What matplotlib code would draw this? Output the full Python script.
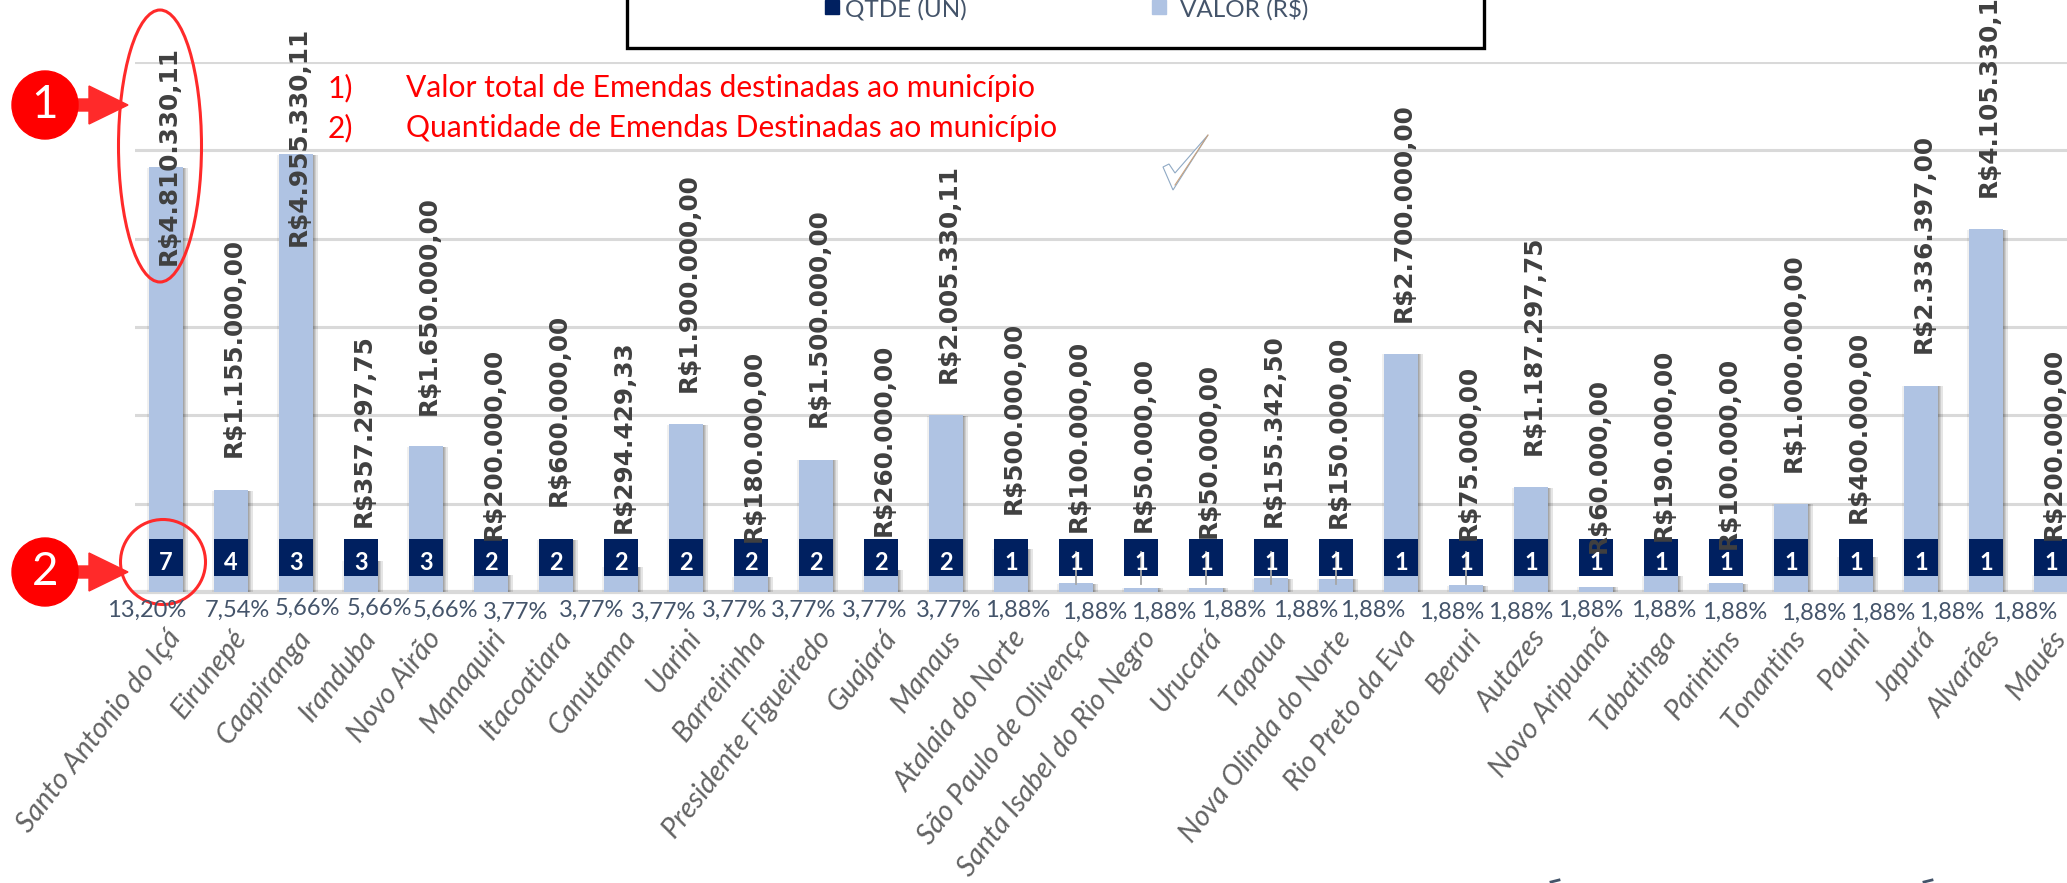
import matplotlib
matplotlib.use('Agg')
import matplotlib.pyplot as plt
import matplotlib.patheffects as pe
from matplotlib.patches import Ellipse, Polygon, Rectangle

# Data
municipios = ['Santo Antonio do Içá', 'Eirunepé', 'Caapiranga', 'Iranduba', 'Novo Airão',
              'Manaquiri', 'Itacoatiara', 'Canutama', 'Uarini', 'Barreirinha',
              'Presidente Figueiredo', 'Guajará', 'Manaus', 'Atalaia do Norte',
              'São Paulo de Olivença', 'Santa Isabel do Rio Negro', 'Urucará', 'Tapaua',
              'Nova Olinda do Norte', 'Rio Preto da Eva', 'Beruri', 'Autazes',
              'Novo Aripuanã', 'Tabatinga', 'Parintins', 'Tonantins', 'Pauni', 'Japurá',
              'Alvarães', 'Maués']
valor = [4810330.11, 1155000, 4955330.11, 357297.75, 1650000, 200000, 600000, 294429.33,
         1900000, 180000, 1500000, 260000, 2005330.11, 500000, 100000, 50000, 50000,
         155342.50, 150000, 2700000, 75000, 1187297.75, 60000, 190000, 100000, 1000000,
         400000, 2336397, 4105330.11, 200000]
qtde = [7, 4, 3, 3, 3, 2, 2, 2, 2, 2, 2, 2, 2, 1, 1, 1, 1, 1, 1, 1, 1, 1, 1, 1, 1, 1, 1, 1, 1, 1]
pct_labels = ['13,20%', '7,54%', '5,66%', '5,66%', '5,66%', '3,77%', '3,77%', '3,77%', '3,77%',
              '3,77%', '3,77%', '3,77%', '1,88%', '1,88%', '1,88%', '1,88%', '1,88%', '1,88%',
              '1,88%', '1,88%', '1,88%', '1,88%', '1,88%', '1,88%', '1,88%', '1,88%', '1,88%']

# Label layout, in picture pixels
label_bottom = [265, 457, 246, 527, 415, 540, 506, 533, 392, 542, 427, 536, 383, 514, 532,
                532, 538, 527, 528, 322, 540, 455, 553, 541, 549, 472, 523, 353, 197, 540]
pct_x = [147, 237, 307, 379, 445, 516, 592, 664, 735, 804, 875, 949, 1018, 1095, 1164, 1234,
         1306, 1373, 1452, 1521, 1591, 1664, 1735, 1814, 1883, 1952, 2025]
pct_y = [610, 610, 608, 608, 610, 612, 610, 612, 610, 610, 610, 610, 610, 612, 612, 610, 610,
         610, 612, 612, 610, 610, 612, 613, 613, 612, 612]
leader_bars = [14, 15, 16, 17, 18, 20]

W, H = 2067, 883
LIGHT = '#AFC3E3'
NAVY = '#002060'
RED = '#FF2A2A'

fig = plt.figure(figsize=(W / 100, H / 100), dpi=100)

# Main axes: bar i sits at 166 + 65*i px, zero at 592 px, 1 million = 88.3 px
ax = fig.add_axes([135 / W, (H - 592) / H, (W - 135) / W, 530 / H])
ax.set_xlim((135 - 166) / 65, (W - 166) / 65)
ax.set_ylim(0, 6e6)
x = list(range(len(municipios)))

shadow = [pe.SimplePatchShadow(offset=(d, -0.5), shadow_rgbFace='black', alpha=0.1) for d in (3.6, 2.8, 2.0, 1.2)]
shadow.append(pe.SimplePatchShadow(offset=(-1.5, -0.5), shadow_rgbFace='black', alpha=0.06))
bars = ax.bar(x, valor, width=0.51, color=LIGHT, zorder=3)
for b in bars:
    b.set_path_effects(shadow + [pe.Normal()])

ax.bar(x, [0.42e6] * len(x), bottom=0.18e6, width=0.52, color=NAVY, zorder=4)

ax.yaxis.set_major_locator(plt.MultipleLocator(1e6))
ax.yaxis.grid(True, color='#D9D9D9', linewidth=2.2, zorder=0)
ax.set_axisbelow(True)
ax.tick_params(axis='y', left=False, labelleft=False)
ax.tick_params(axis='x', length=0, pad=24)
ax.set_xticks(x)
ax.set_xticklabels(municipios, rotation=52, ha='right', rotation_mode='anchor',
                   fontsize=20.5, style='italic', color='#636363', family='Lato')
for side in ['top', 'left', 'right']:
    ax.spines[side].set_visible(False)
ax.spines['bottom'].set_color('#D9D9D9')
ax.spines['bottom'].set_linewidth(3)

# Overlay in pixel coordinates for labels and the hand-drawn marks
ov = fig.add_axes([0, 0, 1, 1], zorder=5)
ov.set_xlim(0, W)
ov.set_ylim(H, 0)
ov.axis('off')
ov.patch.set_alpha(0)

for i, v in enumerate(valor):
    txt = f'R${v:,.2f}'.replace(',', '#').replace('.', ',').replace('#', '.')
    ov.text(169 + 65 * i, label_bottom[i], txt, rotation=90, ha='center', va='bottom',
            fontsize=17.8, fontweight='bold', color='#404040')
    ov.text(166 + 65 * i, 563, str(qtde[i]), ha='center', va='center', color='white',
            fontsize=17, fontweight='bold', family='Lato')

for i in leader_bars:
    ov.plot([166 + 65 * i] * 2, [552, 584], color='#A6A6A6', linewidth=1.3)

for lab, px, py in zip(pct_labels, pct_x, pct_y):
    ov.text(px, py, lab, ha='center', va='center', fontsize=17, color='#44546A', family='Lato')

# Legend box, cut by the top of the picture
ov.add_patch(Rectangle((627, -10), 857, 58, fill=False, edgecolor='black', linewidth=2.4))
ov.add_patch(Rectangle((825, 0), 14, 14, color=NAVY))
ov.add_patch(Rectangle((1152, 0), 14, 14, color=LIGHT))
ov.text(845, 17, 'QTDE (UN)', ha='left', va='baseline', fontsize=17.5, color='#44546A', family='Lato')
ov.text(1180, 17, 'VALOR (R$)', ha='left', va='baseline', fontsize=17.5, color='#44546A', family='Lato')

# Red notes
for yy, n, s in [(88, '1)', 'Valor total de Emendas destinadas ao município'),
                 (128, '2)', 'Quantidade de Emendas Destinadas ao município')]:
    ov.text(328, yy, n, ha='left', va='center', color='#FF0000', fontsize=21.6, family='Lato')
    ov.text(406, yy, s, ha='left', va='center', color='#FF0000', fontsize=21.6, family='Lato')

# Rings and numbered arrows
ov.add_patch(Ellipse((160, 146), 83, 272, fill=False, edgecolor=RED, linewidth=2.2))
ov.add_patch(Ellipse((163, 562), 85, 85, fill=False, edgecolor=RED, linewidth=2.2))
for cy, n in [(105, '1'), (572, '2')]:
    ov.add_patch(Polygon([(76, cy - 6), (89, cy - 6), (89, cy - 19), (128, cy), (89, cy + 19),
                          (89, cy + 6), (76, cy + 6)], color=RED))
    ov.add_patch(Ellipse((45, cy), 66, 68, color='#FF0000'))
    ov.text(45, cy, n, ha='center', va='center', color='white', fontsize=33, family='Lato')

# Check mark
ov.add_patch(Polygon([(1163, 167), (1169, 164), (1175, 173), (1208, 135), (1173, 190)],
                     facecolor='white', edgecolor='#8FA9C4', linewidth=0.8))
ov.plot([1175, 1208], [185, 135], color='#C9A27E', linewidth=0.8)

# Tops of two cut-off accents at the bottom edge
for tx in (1555, 1928):
    ov.plot([tx - 4, tx + 4], [882, 880], color='#44546A', linewidth=2)

fig.savefig('out.png', dpi=100)
